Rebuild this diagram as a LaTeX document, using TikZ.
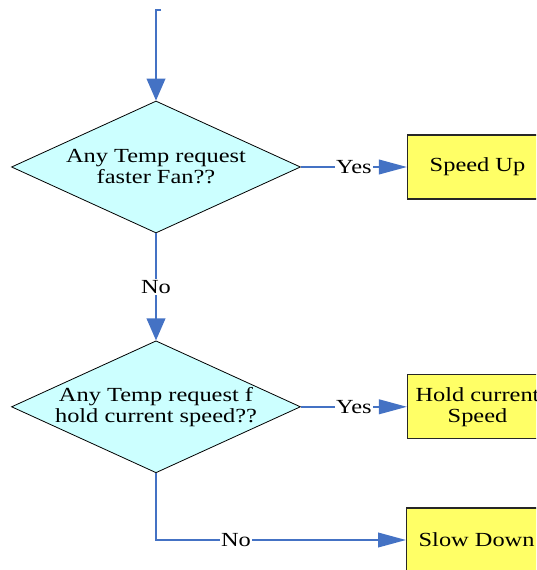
\documentclass[tikz,border=0pt]{standalone}
\usepackage{fontspec}
\newfontfamily\flowfont[FakeStretch=1.22]{Liberation Serif}
\usepackage{tikz}
\usetikzlibrary{arrows.meta, positioning, shapes.geometric}
\definecolor{flowblue}{RGB}{68,114,196}
\definecolor{askcyan}{RGB}{204,255,255}
\definecolor{actyellow}{RGB}{255,255,102}

\begin{document}
\begin{tikzpicture}[x=0.75pt, y=-0.75pt, node distance=79.5pt,
  font=\flowfont\fontsize{15pt}{15.75pt}\selectfont,
  ask/.style={diamond, draw=black, line width=0.6pt, fill=askcyan, aspect=2.19,
    minimum width=216.75pt, minimum height=99pt, inner xsep=-4pt, inner ysep=0pt, align=center},
  act/.style={rectangle, draw=black!85, line width=0.9pt, fill=actyellow,
    minimum width=105pt, minimum height=48pt, inner sep=0pt, align=center},
  flow/.style={color=flowblue, line width=1.3pt, -{Triangle[length=16.5pt, width=14pt]}},
  side/.style={color=flowblue, line width=1.3pt, -{Triangle[length=21pt, width=11pt]}},
  tag/.style={fill=white, text=black, inner sep=1pt}]
\useasboundingbox (0,0) rectangle (536,570);
\clip (0,0) rectangle (536,570);

\coordinate (top) at (156,10);
\coordinate (tick) at (161,10);
\node[ask] (A) at (156,167) {Any Temp request\\faster Fan??};
\node[act, right=of A] (B) {Speed Up};
\node[ask, below=80.25pt of A] (C) {Any Temp request f\\hold current speed??};
\node[act, right=of C] (D) {Hold current\\Speed};
\node[act, anchor=west] (E) at (406,540) {Slow Down};

\draw[flow] (tick) -- (top) -- (A);
\path[side] (A) edge node[tag] {Yes} (B);
\path[flow] (A) edge node[tag] {No} (C);
\path[side] (C) edge node[tag] {Yes} (D);
\draw[side] (C) |- node[tag, pos=0.66] {No} (E);
%
\end{tikzpicture}
\end{document}
